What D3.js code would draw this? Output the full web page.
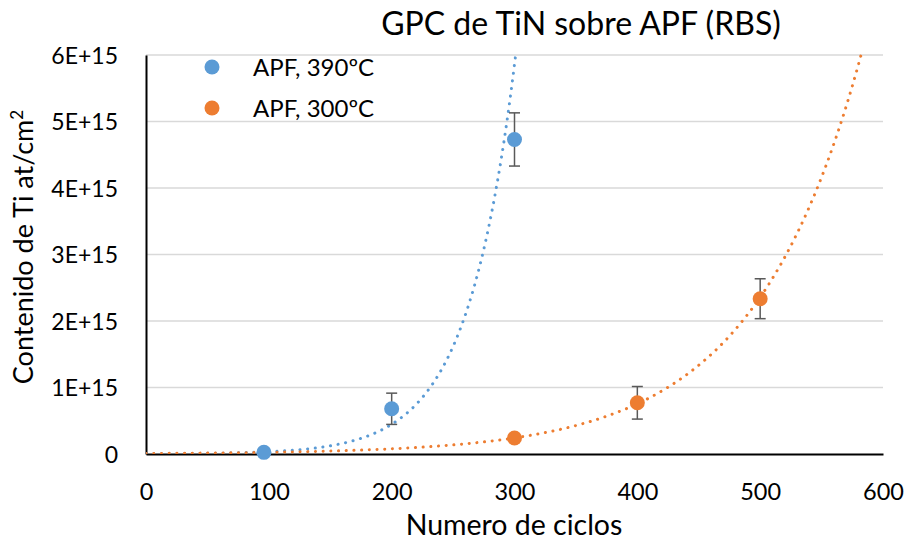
<!DOCTYPE html>
<html><head><meta charset="utf-8">
<script src="https://cdn.jsdelivr.net/npm/d3@7"></script>
<style>body{margin:0;background:#fff}text{font-family:Lato,"Open Sans",sans-serif;fill:#000}</style>
</head><body><svg id="c" width="907" height="541"></svg>
<script>
// ---- data ----
const seriesNames = ["APF, 390ºC", "APF, 300ºC"];
const seriesColors = ["#5B9BD5", "#ED7D31"];
const blueX = [96, 200, 300];
const blueY = [0.025e15, 0.68e15, 4.73e15];
const blueErr = [0.02e15, 0.235e15, 0.4e15];
const orangeX = [300, 400, 500];
const orangeY = [0.24e15, 0.77e15, 2.335e15];
const orangeErr = [0.03e15, 0.245e15, 0.3e15];
const xTicks = [0, 100, 200, 300, 400, 500, 600];
const yTicks = [0, 1e15, 2e15, 3e15, 4e15, 5e15, 6e15];
const yTickLabels = ["0", "1E+15", "2E+15", "3E+15", "4E+15", "5E+15", "6E+15"];

const svg = d3.select("#c");
const L = 146, R = 883, T = 55, B = 454;
const x = d3.scaleLinear().domain([0, 600]).range([L, R]);
const y = d3.scaleLinear().domain([0, 6e15]).range([B, T]);

// gridlines
svg.append("g").selectAll("line").data(yTicks.slice(1)).join("line")
  .attr("x1", L).attr("x2", R).attr("y1", d => y(d)).attr("y2", d => y(d))
  .attr("stroke", "#D9D9D9").attr("stroke-width", 1.3);

// axes
const yAxis = d3.axisLeft(y).tickValues(yTicks).tickSize(0).tickPadding(28)
  .tickFormat((d, i) => yTickLabels[i]);
const gy = svg.append("g").attr("transform", `translate(${L},0)`).call(yAxis);
gy.select(".domain").attr("stroke", "#000").attr("stroke-width", 2);
gy.selectAll("text").attr("font-size", 23).attr("font-family", "Lato").attr("dy", "0.36em");

const xAxis = d3.axisBottom(x).tickValues(xTicks).tickSize(0).tickPadding(0);
const gx = svg.append("g").attr("transform", `translate(0,${B})`).call(xAxis);
gx.select(".domain").attr("stroke", "#000").attr("stroke-width", 2);
gx.selectAll("text").attr("font-size", 23.5).attr("font-family", "Lato")
  .attr("y", 46).attr("dy", null);

// clip
svg.append("clipPath").attr("id", "clip").append("rect")
  .attr("x", L).attr("y", T - 2).attr("width", R - L).attr("height", B - T + 2);

// exponential trendlines (least squares on ln y)
function expFit(xs, ys) {
  const ly = ys.map(Math.log);
  const mx = d3.mean(xs), my = d3.mean(ly);
  let sxy = 0, sxx = 0;
  xs.forEach((v, i) => { sxy += (v - mx) * (ly[i] - my); sxx += (v - mx) ** 2; });
  const b = sxy / sxx, a = my - b * mx;
  return v => Math.exp(a + b * v);
}
const fits = [expFit(blueX, blueY), expFit(orangeX, orangeY)];
const xs = d3.range(0, 600.5, 0.5);
fits.forEach((f, i) => {
  const pts = xs.filter(v => f(v) <= 6.05e15).map(v => [x(v), y(f(v))]);
  svg.append("path").attr("clip-path", "url(#clip)")
    .attr("d", d3.line()(pts)).attr("fill", "none")
    .attr("stroke", seriesColors[i]).attr("stroke-width", 3)
    .attr("stroke-linecap", "round").attr("stroke-dasharray", "0.1 7.6");
});

// error bars and markers
const series = [
  {xs: blueX, ys: blueY, es: blueErr, c: seriesColors[0]},
  {xs: orangeX, ys: orangeY, es: orangeErr, c: seriesColors[1]}
];
series.forEach(s => {
  const g = svg.append("g");
  s.xs.forEach((xv, i) => {
    const cx = x(xv), y1 = y(s.ys[i] + s.es[i]), y2 = y(s.ys[i] - s.es[i]);
    g.append("line").attr("x1", cx).attr("x2", cx).attr("y1", y1).attr("y2", y2)
      .attr("stroke", "#595959").attr("stroke-width", 1.5);
    [y1, y2].forEach(yy => g.append("line").attr("x1", cx - 5.5).attr("x2", cx + 5.5)
      .attr("y1", yy).attr("y2", yy).attr("stroke", "#595959").attr("stroke-width", 1.5));
  });
  g.selectAll("circle").data(s.xs).join("circle")
    .attr("cx", d => x(d)).attr("cy", (d, i) => y(s.ys[i])).attr("r", 7.5).attr("fill", s.c);
});

// legend
seriesNames.forEach((n, i) => {
  const ly = 67 + i * 41;
  svg.append("circle").attr("cx", 212).attr("cy", ly).attr("r", 7.5).attr("fill", seriesColors[i]);
  svg.append("text").attr("x", 253).attr("y", ly + 9)
    .attr("font-size", 24).text(n);
});

// titles
svg.append("text").attr("x", 581).attr("y", 35).attr("text-anchor", "middle")
  .attr("font-size", 32).text("GPC de TiN sobre APF (RBS)");
svg.append("text").attr("x", 514).attr("y", 535).attr("text-anchor", "middle")
  .attr("font-size", 28.5).text("Numero de ciclos");
svg.append("text").attr("transform", "translate(33,247) rotate(-90)").attr("text-anchor", "middle")
  .attr("font-size", 27).html('Contenido de Ti at/cm<tspan dy="-10" font-size="17">2</tspan>');
</script></body></html>
